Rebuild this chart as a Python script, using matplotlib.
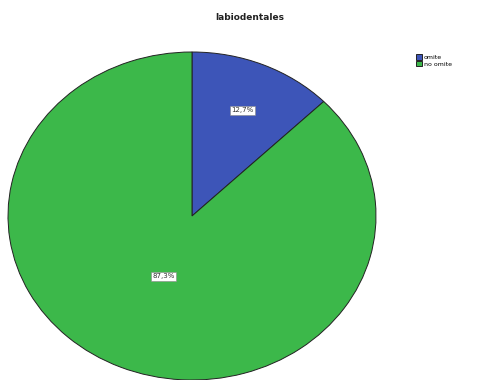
import numpy as np
import matplotlib.pyplot as plt

labels = ['omite', 'no omite']
values = [12.7, 87.3]
colors = ['#3d55b8', '#3cb84a']

fig = plt.figure(figsize=(4.94, 3.80), dpi=100)
ax = fig.add_axes([8/494, 0, 368/494, 328/380])

wedges, texts = ax.pie(values, colors=colors, startangle=90, counterclock=False,
                       wedgeprops=dict(edgecolor='#222222', linewidth=0.7))
ax.set_aspect('auto')
ax.set_xlim(-1, 1)
ax.set_ylim(-1, 1)

# percentage labels, placed along each slice's mid angle
dists = [0.7, 0.4]
for w, v, d in zip(wedges, values, dists):
    ang = np.deg2rad((w.theta1 + w.theta2) / 2)
    ax.text(d * np.cos(ang), d * np.sin(ang), f'{v:.1f}%'.replace('.', ','),
            ha='center', va='center', fontsize=5, color='#333333',
            bbox=dict(facecolor='white', edgecolor='#888888', linewidth=0.4, pad=1))

fig.text(0.506, 0.953, 'labiodentales', ha='center', va='center',
         fontsize=6.5, fontweight='bold', color='#222222')

fig.legend(wedges, labels, loc='upper left', bbox_to_anchor=(0.835, 0.865),
           fontsize=4.5, frameon=False, handlelength=1.0, handleheight=0.9,
           handletextpad=0.3, labelspacing=0.15, borderpad=0)

fig.savefig('out.png', dpi=100)
